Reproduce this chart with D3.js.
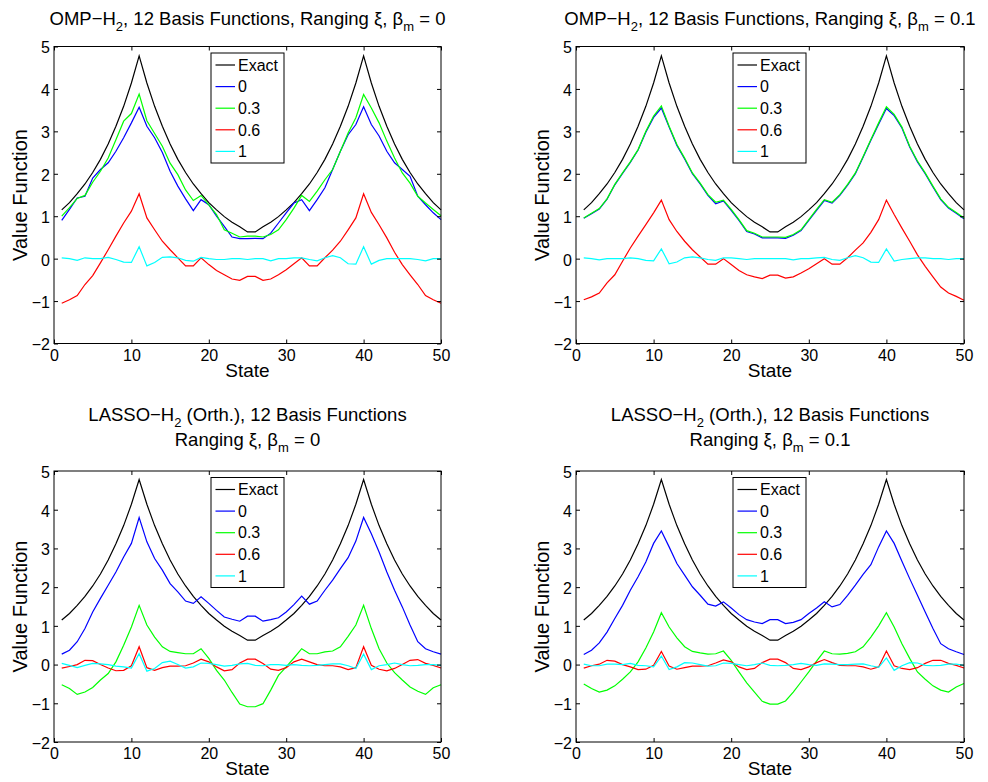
<!DOCTYPE html>
<html><head><meta charset="utf-8">
<script src="https://cdnjs.cloudflare.com/ajax/libs/d3/7.8.5/d3.min.js"></script>
<style>body{margin:0;background:#fff;} svg{display:block;} text{font-family:"Liberation Sans",Arial,Helvetica,sans-serif;fill:#000;}</style>
</head><body><svg id="c" width="988" height="782"></svg>
<script>
// ---------------- DATA ----------------
const states = [1,2,3,4,5,6,7,8,9,10,11,12,13,14,15,16,17,18,19,20,21,22,23,24,25,26,27,28,29,30,31,32,33,34,35,36,37,38,39,40,41,42,43,44,45,46,47,48,49,50];
const xTicks = [0,10,20,30,40,50];
const yTicks = [-2,-1,0,1,2,3,4,5];
const legendLabels = ["Exact","0","0.3","0.6","1"];
const seriesColors = ["#000000","#0000ff","#00ff00","#ff0000","#00ffff"];

const exact = [1.15,1.32,1.53,1.76,2.03,2.34,2.70,3.12,3.59,4.14,4.78,4.14,3.59,3.12,2.70,2.34,2.03,1.76,1.53,1.32,1.15,0.99,0.86,0.75,0.63,0.63,0.75,0.86,0.99,1.15,1.32,1.53,1.76,2.03,2.34,2.70,3.12,3.59,4.14,4.78,4.14,3.59,3.12,2.70,2.34,2.03,1.76,1.53,1.32,1.15];

// OMP-H2, beta_m = 0
const omp0_xi0  = [0.90,1.16,1.43,1.47,1.90,2.10,2.26,2.53,2.85,3.20,3.57,3.12,2.85,2.50,2.06,1.71,1.41,1.13,1.39,1.27,1.00,0.76,0.51,0.47,0.47,0.48,0.47,0.60,0.84,1.08,1.31,1.39,1.13,1.39,1.67,2.10,2.53,2.92,3.16,3.58,3.16,2.89,2.53,2.26,2.10,1.94,1.47,1.27,1.08,0.92];
const omp0_xi03 = [1.00,1.20,1.42,1.49,1.80,2.06,2.37,2.80,3.24,3.42,3.88,3.25,2.95,2.65,2.25,1.98,1.62,1.37,1.49,1.27,1.04,0.68,0.60,0.51,0.53,0.53,0.51,0.57,0.68,0.92,1.19,1.49,1.35,1.59,1.86,2.10,2.53,2.96,3.32,3.87,3.55,3.20,2.77,2.37,2.02,1.78,1.47,1.31,1.16,1.01];
const omp0_xi06 = [-1.05,-0.97,-0.87,-0.61,-0.40,-0.10,0.21,0.53,0.84,1.12,1.53,0.96,0.68,0.41,0.21,0.02,-0.17,-0.17,0.02,-0.14,-0.28,-0.38,-0.48,-0.51,-0.42,-0.42,-0.51,-0.48,-0.38,-0.26,-0.12,0.02,-0.17,-0.17,0.02,0.20,0.41,0.68,0.96,1.53,1.09,0.80,0.49,0.15,-0.14,-0.38,-0.61,-0.87,-0.97,-1.05];
const omp0_xi1  = [0.02,0.00,-0.04,0.02,0.00,0.00,0.03,-0.02,-0.08,-0.09,0.28,-0.17,-0.09,0.03,0.04,0.02,-0.04,-0.06,0.03,0.00,-0.02,-0.02,0.00,0.00,-0.02,0.00,0.00,-0.05,0.00,0.00,0.02,0.02,-0.02,-0.05,0.02,0.07,0.02,-0.12,-0.13,0.28,-0.13,-0.04,0.00,0.00,0.00,0.00,-0.02,-0.05,0.00,0.00];

// OMP-H2, beta_m = 0.1
const omp1_xi0  = [0.95,1.06,1.17,1.40,1.74,2.01,2.27,2.56,2.98,3.33,3.55,3.10,2.67,2.35,2.00,1.76,1.49,1.29,1.36,1.14,0.90,0.64,0.58,0.49,0.49,0.49,0.48,0.55,0.66,0.90,1.14,1.37,1.31,1.49,1.73,2.00,2.39,2.79,3.17,3.54,3.37,3.08,2.63,2.28,2.00,1.69,1.39,1.19,1.07,0.94];
const omp1_xi03 = [0.96,1.07,1.18,1.41,1.75,2.02,2.28,2.57,3.00,3.36,3.60,3.12,2.69,2.37,2.02,1.78,1.51,1.33,1.38,1.16,0.92,0.66,0.60,0.51,0.51,0.51,0.50,0.57,0.68,0.92,1.16,1.39,1.33,1.51,1.75,2.02,2.41,2.81,3.20,3.58,3.40,3.10,2.65,2.30,2.02,1.71,1.41,1.21,1.09,0.96];
const omp1_xi06 = [-0.97,-0.90,-0.81,-0.57,-0.38,-0.06,0.25,0.53,0.80,1.08,1.38,0.92,0.64,0.41,0.21,0.04,-0.13,-0.13,0.00,-0.14,-0.28,-0.38,-0.43,-0.47,-0.39,-0.39,-0.46,-0.43,-0.34,-0.24,-0.12,0.00,-0.13,-0.13,0.02,0.20,0.37,0.62,0.92,1.38,1.04,0.72,0.41,0.09,-0.18,-0.43,-0.67,-0.81,-0.89,-0.98];
const omp1_xi1  = [0.02,0.00,-0.03,0.00,0.00,0.00,0.02,0.00,-0.04,-0.05,0.23,-0.12,-0.08,0.02,0.04,0.02,-0.02,-0.04,0.02,0.02,0.00,-0.02,0.00,0.00,0.00,0.00,0.00,-0.03,0.00,0.00,0.02,0.03,-0.02,-0.04,0.02,0.07,0.02,-0.08,-0.09,0.23,-0.06,-0.02,0.00,0.02,0.02,0.00,0.00,-0.02,0.00,0.00];

// LASSO-H2 (Orth.), beta_m = 0
const las0_xi0  = [0.27,0.37,0.59,0.93,1.36,1.71,2.05,2.39,2.78,3.13,3.80,3.17,2.74,2.44,2.09,1.88,1.64,1.58,1.75,1.58,1.40,1.23,1.17,1.12,1.25,1.25,1.12,1.16,1.21,1.36,1.55,1.77,1.56,1.64,1.92,2.18,2.48,2.76,3.19,3.80,3.38,2.91,2.39,1.92,1.49,1.02,0.59,0.41,0.33,0.27];
const las0_xi03 = [-0.52,-0.62,-0.77,-0.71,-0.59,-0.40,-0.23,0.07,0.50,0.97,1.53,1.02,0.71,0.46,0.34,0.31,0.28,0.28,0.41,0.16,-0.15,-0.40,-0.72,-1.02,-1.09,-1.09,-1.01,-0.66,-0.28,-0.06,0.17,0.41,0.28,0.28,0.33,0.35,0.46,0.73,1.02,1.53,0.93,0.41,0.04,-0.21,-0.40,-0.58,-0.69,-0.77,-0.60,-0.52];
const las0_xi06 = [-0.09,-0.05,0.00,0.11,0.10,0.00,-0.09,-0.16,-0.15,-0.03,0.46,-0.08,-0.15,-0.08,-0.04,-0.04,-0.03,0.04,0.14,0.07,-0.06,-0.16,-0.13,0.04,0.14,0.14,0.03,-0.12,-0.15,-0.08,0.07,0.14,0.07,0.00,-0.03,-0.03,-0.06,-0.13,-0.08,0.46,-0.02,-0.12,-0.16,-0.10,0.00,0.11,0.13,0.03,-0.02,-0.09];
const las0_xi1  = [0.03,-0.02,-0.08,-0.02,0.03,0.02,0.00,-0.04,-0.06,-0.09,0.28,-0.17,-0.10,0.05,0.09,0.00,-0.09,-0.06,0.04,0.03,0.00,-0.04,-0.02,0.02,0.03,-0.02,-0.03,0.00,0.00,-0.02,0.00,-0.02,-0.03,-0.02,0.00,0.02,0.02,-0.03,-0.10,0.27,-0.13,-0.03,0.00,0.04,0.00,-0.03,-0.02,0.00,0.00,-0.02];

// LASSO-H2 (Orth.), beta_m = 0.1
const las1_xi0  = [0.26,0.37,0.56,0.84,1.19,1.53,1.92,2.27,2.65,3.13,3.45,3.04,2.61,2.31,2.01,1.79,1.56,1.51,1.62,1.46,1.29,1.16,1.10,1.06,1.16,1.16,1.06,1.09,1.16,1.32,1.46,1.62,1.49,1.55,1.79,2.05,2.33,2.58,3.04,3.45,3.13,2.67,2.22,1.79,1.36,0.93,0.54,0.41,0.33,0.26];
const las1_xi03 = [-0.50,-0.62,-0.71,-0.66,-0.55,-0.38,-0.19,0.07,0.43,0.84,1.34,0.97,0.69,0.46,0.34,0.30,0.27,0.28,0.35,0.11,-0.19,-0.47,-0.71,-0.95,-1.02,-1.02,-0.94,-0.71,-0.45,-0.19,0.09,0.35,0.28,0.27,0.29,0.33,0.46,0.71,1.00,1.34,0.97,0.54,0.16,-0.19,-0.38,-0.55,-0.66,-0.71,-0.58,-0.49];
const las1_xi06 = [-0.09,-0.03,0.01,0.11,0.09,0.00,-0.06,-0.13,-0.12,-0.02,0.34,-0.04,-0.12,-0.08,-0.04,-0.04,-0.03,0.04,0.12,0.07,-0.06,-0.13,-0.10,0.05,0.14,0.14,0.05,-0.10,-0.13,-0.06,0.05,0.13,0.05,-0.02,-0.03,-0.03,-0.06,-0.12,-0.06,0.35,-0.03,-0.10,-0.13,-0.08,0.03,0.11,0.11,0.03,-0.02,-0.09];
const las1_xi1  = [0.01,-0.03,-0.03,0.01,0.01,0.00,0.03,-0.02,-0.03,-0.06,0.22,-0.13,-0.06,0.05,0.04,0.00,-0.04,-0.03,0.04,0.03,0.00,-0.03,0.00,0.04,-0.02,-0.03,-0.02,0.00,0.03,0.00,-0.02,0.02,0.01,0.00,0.00,0.01,0.02,-0.03,-0.07,0.17,-0.15,-0.03,0.05,0.04,-0.02,-0.03,-0.02,0.01,0.01,-0.02];

// ---------------- LAYOUT ----------------
const FONT = '"Liberation Sans",Arial,Helvetica,sans-serif';
const panels = [
  {left:54, right:441, top:46.5, bottom:343.5,
   title:[[{t:"OMP−H"},{t:"2",sub:1},{t:", 12 Basis Functions, Ranging ξ, β"},{t:"m",sub:1},{t:" = 0"}]],
   series:[exact,omp0_xi0,omp0_xi03,omp0_xi06,omp0_xi1]},
  {left:576, right:964, top:46.5, bottom:343.5,
   title:[[{t:"OMP−H"},{t:"2",sub:1},{t:", 12 Basis Functions, Ranging ξ, β"},{t:"m",sub:1},{t:" = 0.1"}]],
   series:[exact,omp1_xi0,omp1_xi03,omp1_xi06,omp1_xi1]},
  {left:54, right:441, top:471, bottom:742,
   title:[[{t:"LASSO−H"},{t:"2",sub:1},{t:" (Orth.), 12 Basis Functions"}],[{t:"Ranging ξ, β"},{t:"m",sub:1},{t:" = 0"}]],
   series:[exact,las0_xi0,las0_xi03,las0_xi06,las0_xi1]},
  {left:576, right:964, top:471, bottom:742,
   title:[[{t:"LASSO−H"},{t:"2",sub:1},{t:" (Orth.), 12 Basis Functions"}],[{t:"Ranging ξ, β"},{t:"m",sub:1},{t:" = 0.1"}]],
   series:[exact,las1_xi0,las1_xi03,las1_xi06,las1_xi1]}
];

const svg = d3.select("#c");
svg.append("rect").attr("width",988).attr("height",782).attr("fill","#fff");

panels.forEach(p => {
  const x = d3.scaleLinear().domain([0,50]).range([p.left,p.right]);
  const y = d3.scaleLinear().domain([-2,5]).range([p.bottom,p.top]);
  const g = svg.append("g");

  const line = d3.line().x((d,i)=>x(states[i])).y(d=>y(d));
  p.series.forEach((s,k)=>{
    g.append("path").datum(s).attr("d",line).attr("fill","none")
     .attr("stroke",seriesColors[k]).attr("stroke-width",1.2).attr("stroke-linejoin","miter");
  });

  const ax = g.append("g").attr("transform",`translate(0,${p.bottom})`)
    .call(d3.axisBottom(x).tickValues(xTicks).tickSizeInner(-4).tickSizeOuter(0).tickPadding(6).tickFormat(d3.format("d")));
  const ay = g.append("g").attr("transform",`translate(${p.left},0)`)
    .call(d3.axisLeft(y).tickValues(yTicks).tickSizeInner(-4).tickSizeOuter(0).tickPadding(4).tickFormat(d3.format("d")));
  const at = g.append("g").attr("transform",`translate(0,${p.top})`)
    .call(d3.axisTop(x).tickValues(xTicks).tickSizeInner(-4).tickSizeOuter(0).tickFormat(""));
  const ar = g.append("g").attr("transform",`translate(${p.right},0)`)
    .call(d3.axisRight(y).tickValues(yTicks).tickSizeInner(-4).tickSizeOuter(0).tickFormat(""));
  [ax,ay,at,ar].forEach(a=>{
    a.select(".domain").remove();
    a.selectAll("line").attr("stroke","#000");
    a.selectAll("text").attr("font-family",FONT).attr("font-size",16).attr("fill","#000");
  });
  ay.selectAll("text").attr("dy","0.4em");

  g.append("rect").attr("x",p.left).attr("y",p.top).attr("width",p.right-p.left).attr("height",p.bottom-p.top)
   .attr("fill","none").attr("stroke","#000").attr("stroke-width",1);

  g.append("text").attr("x",(p.left+p.right)/2).attr("y",p.bottom+33).attr("text-anchor","middle")
   .attr("font-size",19).attr("font-family",FONT).text("State");
  g.append("text").attr("transform",`translate(${p.left-27},${(p.top+p.bottom)/2}) rotate(-90)`)
   .attr("text-anchor","middle").attr("font-size",20).attr("font-family",FONT).text("Value Function");

  const nLines = p.title.length;
  p.title.forEach((ln,li)=>{
    const by = p.top - 22 - (nLines-1-li)*25 - (nLines>1?3:0);
    const tx = g.append("text").attr("x",(p.left+p.right)/2).attr("y",by).attr("text-anchor","middle")
      .attr("font-size",18.5).attr("font-family",FONT);
    let shifted = false;
    ln.forEach(seg=>{
      const ts = tx.append("tspan").text(seg.t);
      if (seg.sub) { ts.attr("font-size",13).attr("dy",6); shifted = true; }
      else if (shifted) { ts.attr("dy",-6); shifted = false; }
    });
  });

  const lx = p.left+157, ly = p.top+6.5;
  const lg = g.append("g");
  lg.append("rect").attr("x",lx).attr("y",ly).attr("width",73).attr("height",110)
    .attr("fill","#fff").attr("stroke","#000").attr("stroke-width",1);
  legendLabels.forEach((lab,i)=>{
    const yy = ly + 12 + i*21.6;
    lg.append("line").attr("x1",lx+4.5).attr("x2",lx+24).attr("y1",yy).attr("y2",yy)
      .attr("stroke",seriesColors[i]).attr("stroke-width",1.2);
    lg.append("text").attr("x",lx+27).attr("y",yy).attr("dy","0.36em")
      .attr("font-size",16).attr("font-family",FONT).text(lab);
  });
});
</script></body></html>
